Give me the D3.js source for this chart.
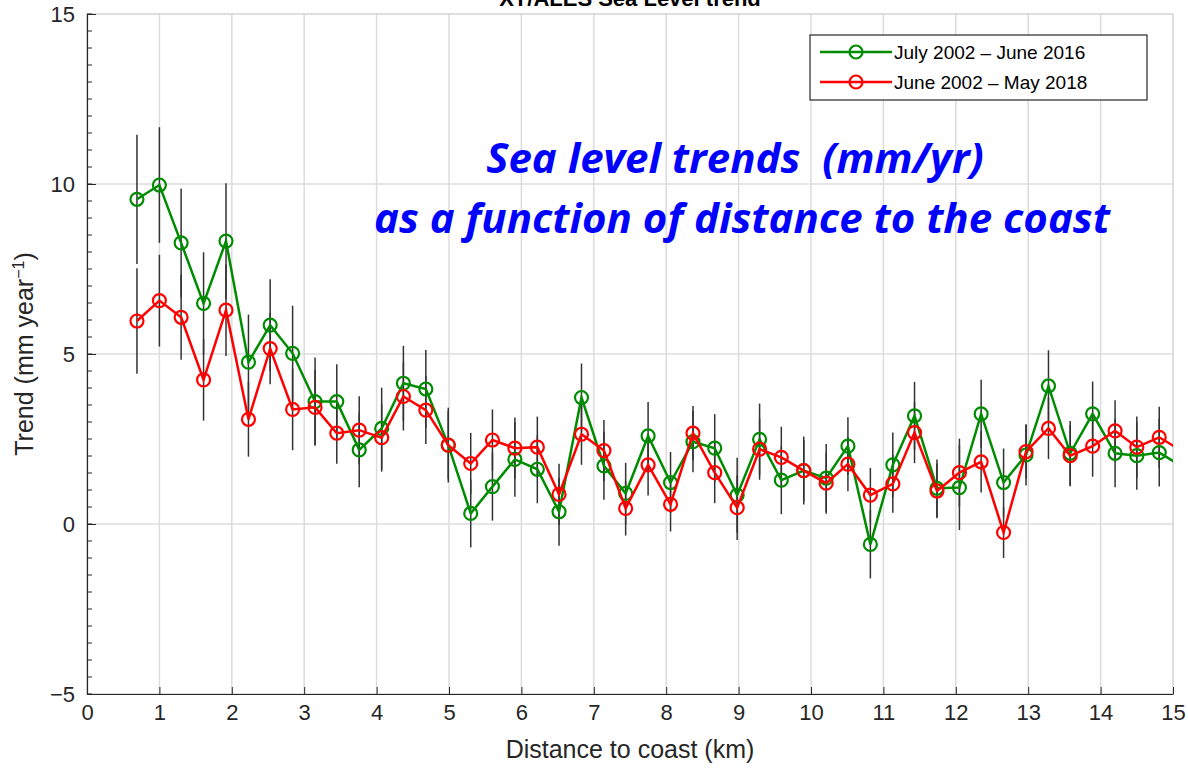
<!DOCTYPE html>
<html><head><meta charset="utf-8">
<script src="https://cdn.jsdelivr.net/npm/d3@7"></script>
<style>body{margin:0;background:#fff;} svg{display:block;}</style>
</head><body>
<svg id="chart" width="1188" height="768"></svg>
<script>
const width = 1188, height = 768;
const m = {left: 87, right: 15, top: 14, bottom: 74};

// data
const distance = [0.69,1.0,1.3,1.61,1.92,2.23,2.53,2.84,3.15,3.45,3.76,4.07,4.37,4.68,4.99,5.3,5.6,5.91,6.22,6.52,6.83,7.14,7.44,7.75,8.06,8.37,8.67,8.98,9.29,9.59,9.9,10.21,10.51,10.82,11.13,11.43,11.74,12.05,12.35,12.66,12.97,13.28,13.58,13.89,14.2,14.5,14.81];
const green = [9.55,9.97,8.27,6.49,8.32,4.76,5.85,5.02,3.6,3.6,2.18,2.81,4.14,3.97,2.32,0.31,1.1,1.9,1.61,0.36,3.72,1.71,0.9,2.59,1.22,2.42,2.23,0.85,2.49,1.29,1.57,1.35,2.29,-0.6,1.74,3.18,1.05,1.07,3.24,1.22,2.03,4.06,2.08,3.24,2.08,2.01,2.1];
const red = [5.97,6.57,6.08,4.24,6.29,3.08,5.16,3.37,3.43,2.67,2.76,2.54,3.75,3.35,2.32,1.78,2.47,2.23,2.26,0.87,2.64,2.16,0.46,1.74,0.58,2.67,1.51,0.48,2.2,1.96,1.57,1.2,1.76,0.85,1.18,2.69,0.97,1.51,1.83,-0.25,2.13,2.81,2.01,2.29,2.74,2.26,2.55];
const greenErr = [1.9,1.7,1.6,1.5,1.7,1.4,1.35,1.4,1.3,1.1,1.1,1.2,1.1,1.15,1.1,1.0,1.0,1.1,1.0,1.0,1.0,1.0,0.9,1.0,0.9,0.9,1.0,1.1,1.05,1.0,1.0,1.0,0.85,1.0,0.95,1.0,0.85,1.25,1.0,1.0,0.9,1.05,0.95,0.95,1.0,1.0,1.0];
const redErr = [1.55,1.35,1.25,1.2,1.35,1.1,1.05,1.2,1.1,0.9,1.0,1.0,1.0,1.0,1.0,0.9,0.9,0.9,0.9,0.9,0.9,0.9,0.8,0.9,0.8,0.8,0.9,0.95,0.9,0.9,0.9,0.9,0.8,0.8,0.85,0.9,0.8,1.0,0.9,0.75,0.8,0.9,0.9,0.9,0.9,0.9,0.9];
// last sample lies just past the axis edge (clipped)
const edgeDistance = 15.12, edgeGreen = 1.7, edgeRed = 2.15;
const xTicks = d3.range(0, 16);
const yTicks = [-5, 0, 5, 10, 15];
const seriesNames = ["July 2002 \u2013 June 2016", "June 2002 \u2013 May 2018"];
const seriesColors = ["#008c00", "#ff0000"];

const svg = d3.select("#chart");
const x = d3.scaleLinear().domain([0, 15]).range([m.left, width - m.right]);
const y = d3.scaleLinear().domain([-5, 15]).range([height - m.bottom, m.top]);

svg.append("defs").append("clipPath").attr("id", "clip")
  .append("rect").attr("x", m.left).attr("y", m.top)
  .attr("width", x(15) - m.left).attr("height", y(-5) - m.top);

// grid
const grid = svg.append("g").attr("stroke", "#dcdcdc").attr("stroke-width", 1.5);
grid.selectAll(".gx").data(xTicks.slice(1, -1)).join("line")
  .attr("x1", d => x(d)).attr("x2", d => x(d)).attr("y1", y(-5)).attr("y2", y(15));
grid.selectAll(".gy").data(yTicks.slice(1, -1)).join("line")
  .attr("y1", d => y(d)).attr("y2", d => y(d)).attr("x1", x(0)).attr("x2", x(15));

// box
svg.append("rect").attr("x", x(0)).attr("y", y(15)).attr("width", x(15) - x(0)).attr("height", y(-5) - y(15))
  .attr("fill", "none").attr("stroke", "#bdbdbd").attr("stroke-width", 1);

const plot = svg.append("g").attr("clip-path", "url(#clip)");

// error bars
[[green, greenErr], [red, redErr]].forEach(([vals, errs]) => {
  plot.append("g").selectAll("line").data(vals).join("line")
    .attr("x1", (d, i) => x(distance[i])).attr("x2", (d, i) => x(distance[i]))
    .attr("y1", (d, i) => y(d - errs[i])).attr("y2", (d, i) => y(d + errs[i]))
    .attr("stroke", "#333").attr("stroke-width", 1.5);
});

// lines + markers
const line = d3.line().x(d => x(d[0])).y(d => y(d[1]));
[[green, edgeGreen], [red, edgeRed]].forEach(([vals, edge], k) => {
  const pts = vals.map((v, i) => [distance[i], v]).concat([[edgeDistance, edge]]);
  plot.append("path").attr("d", line(pts)).attr("fill", "none")
    .attr("stroke", seriesColors[k]).attr("stroke-width", 2.5);
  plot.append("g").selectAll("circle").data(vals).join("circle")
    .attr("cx", (d, i) => x(distance[i])).attr("cy", d => y(d)).attr("r", 6.5)
    .attr("fill", "none").attr("stroke", seriesColors[k]).attr("stroke-width", 2.2);
});

// axes
const xAxis = svg.append("g").attr("transform", `translate(0,${y(-5)})`)
  .call(d3.axisBottom(x).tickValues(xTicks).tickFormat(d3.format("d")).tickSizeInner(-7).tickSizeOuter(0).tickPadding(10));
const yAxis = svg.append("g").attr("transform", `translate(${x(0)},0)`)
  .call(d3.axisLeft(y).tickValues(yTicks).tickSizeInner(-9).tickSizeOuter(0).tickPadding(12));
yAxis.append("g").selectAll("line").data(d3.range(-5, 15.01, 0.5)).join("line")
  .attr("x1", 0).attr("x2", 5).attr("y1", d => y(d)).attr("y2", d => y(d)).attr("stroke", "#262626");
[xAxis, yAxis].forEach(a => {
  a.select(".domain").attr("stroke", "#262626").attr("stroke-width", 1.2);
  a.selectAll(".tick line").attr("stroke", "#262626");
  a.selectAll("text").attr("fill", "#262626").style("font", "22px 'Liberation Sans', Arial, sans-serif");
});

svg.append("text").attr("x", (x(0) + x(15)) / 2).attr("y", 758).attr("text-anchor", "middle")
  .attr("fill", "#262626").style("font", "25px 'Liberation Sans', Arial, sans-serif")
  .text("Distance to coast (km)");
const yl = svg.append("text").attr("transform", `translate(33,${(y(-5) + y(15)) / 2}) rotate(-90)`)
  .attr("text-anchor", "middle").attr("fill", "#262626").style("font", "25px 'Liberation Sans', Arial, sans-serif");
yl.append("tspan").text("Trend (mm year");
yl.append("tspan").attr("dy", -9).style("font-size", "16px").text("\u22121");
yl.append("tspan").attr("dy", 9).text(")");

// title (cut off at top, as in the source)
svg.append("text").attr("x", 630).attr("y", 6).attr("text-anchor", "middle")
  .attr("fill", "#000").style("font", "bold 22px 'Liberation Sans', Arial, sans-serif")
  .text("XT/ALES Sea Level trend");

// annotation
const ann = svg.append("text").attr("text-anchor", "middle").attr("fill", "#0000ff")
  .style("font", "italic bold 42px 'Open Sans', sans-serif");
ann.append("tspan").attr("x", 735).attr("y", 173).attr("xml:space", "preserve").text("Sea level trends  (mm/yr)");
ann.append("tspan").attr("x", 742).attr("y", 233).text("as a function of distance to the coast");

// legend
const lg = svg.append("g").attr("transform", "translate(810,35)");
lg.append("rect").attr("width", 337).attr("height", 65).attr("fill", "#fff").attr("stroke", "#262626").attr("stroke-width", 1.2);
seriesNames.forEach((name, i) => {
  const yy = 17 + i * 30;
  lg.append("line").attr("x1", 10).attr("x2", 82).attr("y1", yy).attr("y2", yy)
    .attr("stroke", seriesColors[i]).attr("stroke-width", 2.5);
  lg.append("circle").attr("cx", 46).attr("cy", yy).attr("r", 6.5).attr("fill", "none")
    .attr("stroke", seriesColors[i]).attr("stroke-width", 2.2);
  lg.append("text").attr("x", 84).attr("y", yy + 7).attr("fill", "#000")
    .style("font", "19px 'Liberation Sans', Arial, sans-serif").text(name);
});
</script>
</body></html>
